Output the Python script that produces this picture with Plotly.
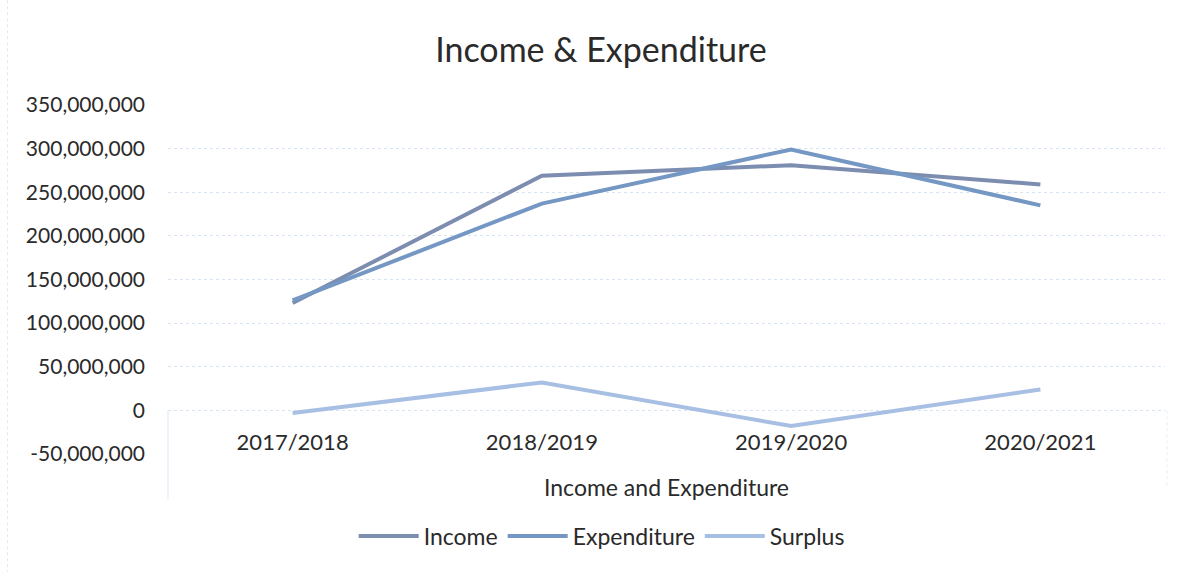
import plotly.graph_objects as go

categories = ["2017/2018", "2018/2019", "2019/2020", "2020/2021"]
income = [123_000_000, 269_000_000, 281_000_000, 259_000_000]
expenditure = [126_000_000, 237_000_000, 299_000_000, 235_000_000]
surplus = [-3_000_000, 32_000_000, -18_000_000, 24_000_000]
y_ticks = [-50_000_000, 0, 50_000_000, 100_000_000, 150_000_000, 200_000_000,
           250_000_000, 300_000_000, 350_000_000]
y_tick_text = [f"{v:,}" for v in y_ticks]

FONT = "Lato"
TXT = "#2a2a2a"

fig = go.Figure()
fig.add_trace(go.Scatter(x=categories, y=income, name="Income", mode="lines",
                         line=dict(color="#7d8db0", width=4)))
fig.add_trace(go.Scatter(x=categories, y=expenditure, name="Expenditure", mode="lines",
                         line=dict(color="#7497c4", width=4)))
fig.add_trace(go.Scatter(x=categories, y=surplus, name="Surplus", mode="lines",
                         line=dict(color="#a8bfe4", width=4)))

fig.update_layout(
    width=1190, height=572,
    margin=dict(l=168, r=25, t=105, b=118),
    paper_bgcolor="white", plot_bgcolor="white",
    font=dict(family=FONT, size=21, color=TXT),
    title=dict(text="Income & Expenditure", x=0.505, xanchor="center",
               y=1 - 50 / 572, yanchor="middle", yref="container",
               font=dict(family=FONT, size=34, color=TXT)),
    showlegend=True,
    legend=dict(orientation="h", x=0.435, xanchor="center", xref="paper",
                y=-0.235, yanchor="middle", font=dict(size=23, color=TXT),
                itemwidth=60, tracegroupgap=0),
    xaxis=dict(type="category", range=[-0.5, 3.5], anchor="free", position=0.125,
               showgrid=False, showline=False, zeroline=False,
               ticks="outside", ticklen=12, tickcolor="rgba(0,0,0,0)",
               tickfont=dict(size=22, color=TXT)),
    yaxis=dict(range=[-50_000_000, 350_000_000], tickvals=y_ticks,
               ticktext=y_tick_text, showgrid=True, gridcolor="#d6e3f2",
               griddash="dot", gridwidth=1, zeroline=False, showline=False,
               ticks="", ticklabelstandoff=22,
               tickfont=dict(size=21, color=TXT)),
    annotations=[dict(text="Income and Expenditure", xref="paper", yref="paper",
                      x=0.5, y=-0.0946, xanchor="center", yanchor="middle",
                      showarrow=False, font=dict(size=23, color=TXT))],
    shapes=[
        dict(type="line", xref="paper", yref="paper", x0=0, x1=0, y0=0.125, y1=-0.13,
             line=dict(color="#dce7f3", width=1)),
        dict(type="line", xref="paper", yref="paper", x0=1.002, x1=1.002, y0=0.125, y1=-0.1,
             line=dict(color="#e6edf6", width=1, dash="dot")),
        dict(type="line", xref="paper", yref="paper", x0=-0.161, x1=-0.161, y0=1.3, y1=-0.34,
             line=dict(color="#e3e9f2", width=1, dash="dot")),
    ],
)

fig.write_html("out.html")
